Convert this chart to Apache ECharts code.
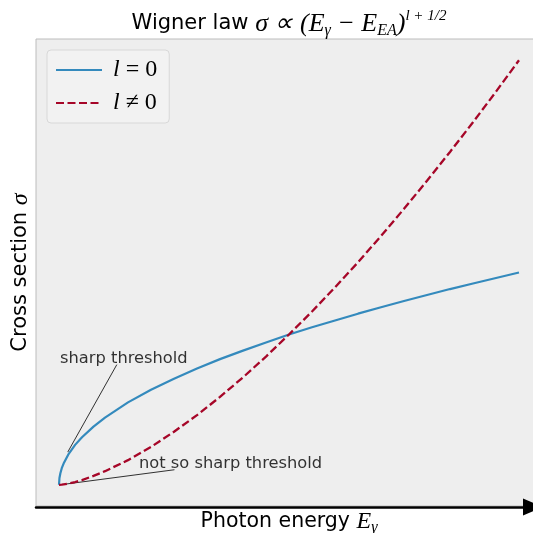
<!DOCTYPE html>
<html>
<head>
<meta charset="utf-8">
<script src="https://cdn.jsdelivr.net/npm/echarts@6/dist/echarts.min.js"></script>
<style>html,body{margin:0;padding:0;background:#fff}#c{width:533px;height:533px}</style>
</head>
<body>
<div id="c"></div>
<script>
// Photon energy above threshold (arbitrary units)
const energy = [0, 0.001, 0.003, 0.006, 0.01, 0.02, 0.035, 0.05, 0.075, 0.1, 0.15, 0.2, 0.25, 0.3, 0.35, 0.4, 0.45, 0.5, 0.55, 0.6, 0.65, 0.7, 0.75, 0.8, 0.85, 0.9, 0.95, 1.0];
// l = 0 : sharp threshold
const sigmaL0 = [0, 0.016, 0.027, 0.039, 0.050, 0.071, 0.094, 0.112, 0.137, 0.158, 0.194, 0.224, 0.250, 0.274, 0.296, 0.316, 0.335, 0.354, 0.371, 0.387, 0.403, 0.418, 0.433, 0.447, 0.461, 0.474, 0.487, 0.500];
// l != 0 : not so sharp threshold
const sigmaL1 = [0, 0.00003, 0.0002, 0.0005, 0.001, 0.0028, 0.0065, 0.011, 0.021, 0.032, 0.058, 0.089, 0.125, 0.164, 0.207, 0.253, 0.302, 0.354, 0.408, 0.465, 0.524, 0.586, 0.650, 0.716, 0.784, 0.854, 0.926, 1.000];
const seriesNames = ['l=0', 'l≠0'];
const annotations = [
  { text: 'sharp threshold', textAt: [0.141, 0.297], from: [0.1257, 0.283], to: [0.019, 0.077] },
  { text: 'not so sharp threshold', textAt: [0.373, 0.0495], from: [0.251, 0.0354], to: [0.017, 0.002] }
];

const zip = (a, b) => a.map((v, i) => [v, b[i]]);
const mathFont = 'Liberation Serif';
const sansFont = 'DejaVu Sans';

const chart = echarts.init(document.getElementById('c'));
const annSeries = [];
annotations.forEach(a => {
  annSeries.push({
    type: 'line', data: [a.from, a.to], symbol: 'none', silent: true,
    lineStyle: { color: '#000', width: 0.8 }, z: 1
  });
  annSeries.push({
    type: 'scatter', data: [a.textAt], symbolSize: 0, silent: true,
    label: { show: true, position: 'inside', formatter: a.text, color: '#000', fontFamily: sansFont, fontSize: 16.3, textBorderWidth: 0 }
  });
});

chart.setOption({
  animation: false,
  backgroundColor: '#ffffff',
  title: {
    left: 284, top: 4, textAlign: 'center',
    text: '{n|Wigner law }{m|σ ∝ (E}{sub|γ}{m| − E}{sub|EA}{m|)}{sup|l + 1/2}',
    textStyle: {
      fontWeight: 'normal',
      rich: {
        n: { fontFamily: sansFont, fontWeight: 'normal', fontSize: 21, color: '#000', lineHeight: 30, verticalAlign: 'middle' },
        m: { fontFamily: mathFont, fontWeight: 'normal', fontStyle: 'italic', fontSize: 26, color: '#000', lineHeight: 30, verticalAlign: 'middle' },
        sub: { fontFamily: mathFont, fontWeight: 'normal', fontStyle: 'italic', fontSize: 16, color: '#000', lineHeight: 14, verticalAlign: 'bottom' },
        sup: { fontFamily: mathFont, fontWeight: 'normal', fontStyle: 'italic', fontSize: 15, color: '#000', lineHeight: 12, verticalAlign: 'top' }
      }
    }
  },
  legend: {
    orient: 'vertical', left: 47, top: 50,
    padding: [8, 12, 8, 8], itemGap: 9, itemWidth: 46, itemHeight: 14,
    backgroundColor: 'rgba(242,242,242,0.9)', borderColor: '#d8d8d8', borderWidth: 1, borderRadius: 4,
    itemStyle: { opacity: 0 },
    data: seriesNames,
    formatter: name => name === 'l=0' ? '{i|l}{r| = 0}' : '{i|l}{r| ≠ 0}',
    textStyle: {
      rich: {
        i: { fontFamily: mathFont, fontStyle: 'italic', fontSize: 24, color: '#000', lineHeight: 24, padding: [0, 0, 0, 6] },
        r: { fontFamily: mathFont, fontSize: 24, color: '#000', lineHeight: 24 }
      }
    }
  },
  grid: {
    left: 36, top: 39, width: 506, height: 467, outerBoundsMode: 'none', containLabel: false,
    show: true, backgroundColor: '#eeeeee', borderColor: '#bcbcbc', borderWidth: 1
  },
  xAxis: {
    type: 'value', min: -0.05, max: 1.05, offset: 1,
    axisLine: { show: true, onZero: false, lineStyle: { color: '#000', width: 2.5 }, symbol: ['none', 'triangle'], symbolSize: [17, 20], symbolOffset: [0, -9] },
    axisTick: { show: false }, axisLabel: { show: false }, splitLine: { show: false },
    name: '{n|Photon energy }{m|E}{sub|γ}', nameLocation: 'middle', nameGap: 1,
    nameTextStyle: {
      rich: {
        n: { fontFamily: sansFont, fontSize: 20.5, color: '#000', lineHeight: 28, verticalAlign: 'middle' },
        m: { fontFamily: mathFont, fontStyle: 'italic', fontSize: 24, color: '#000', lineHeight: 28, verticalAlign: 'middle' },
        sub: { fontFamily: mathFont, fontStyle: 'italic', fontSize: 16, color: '#000', lineHeight: 19, verticalAlign: 'bottom' }
      }
    }
  },
  yAxis: {
    type: 'value', min: -0.05, max: 1.05,
    axisLine: { show: false }, axisTick: { show: false }, axisLabel: { show: false }, splitLine: { show: false },
    name: '{n|Cross section }{m|σ}', nameLocation: 'middle', nameGap: 1, nameRotate: 90,
    nameTextStyle: {
      rich: {
        n: { fontFamily: sansFont, fontSize: 21, color: '#000', lineHeight: 28, verticalAlign: 'middle' },
        m: { fontFamily: mathFont, fontStyle: 'italic', fontSize: 24, color: '#000', lineHeight: 28, verticalAlign: 'middle' }
      }
    }
  },
  series: [
    { name: seriesNames[0], type: 'line', data: zip(energy, sigmaL0), symbol: 'none', showSymbol: false,
      lineStyle: { color: '#348ABD', width: 2.2 }, itemStyle: { color: '#348ABD' }, z: 3 },
    { name: seriesNames[1], type: 'line', data: zip(energy, sigmaL1), symbol: 'none', showSymbol: false,
      lineStyle: { color: '#A60628', width: 2.3, type: [8, 3.5] }, itemStyle: { color: '#A60628' }, z: 3 }
  ].concat(annSeries)
});
</script>
</body>
</html>
